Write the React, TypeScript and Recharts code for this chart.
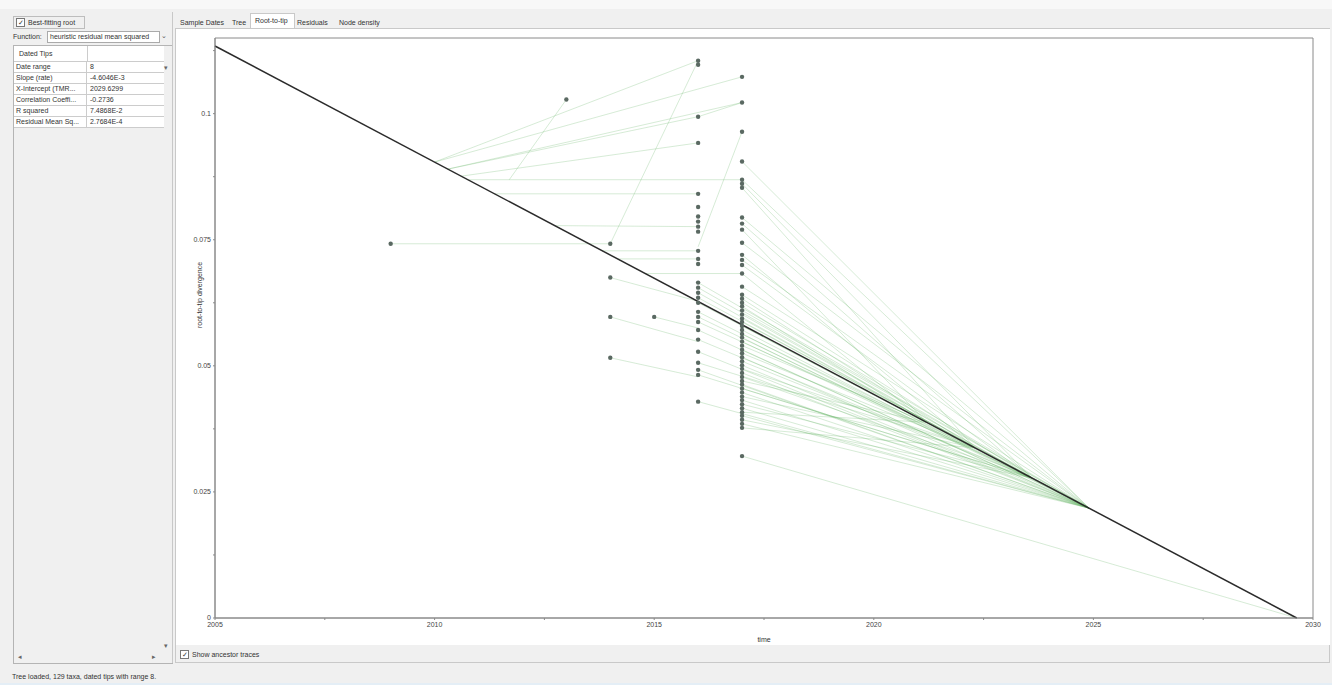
import {
  ComposedChart,
  ReferenceArea,
  ReferenceLine,
  Scatter,
  XAxis,
  YAxis,
} from 'recharts'

// regression fit reported in the side table
const SLOPE = -4.6046e-3
const X_INTERCEPT = 2029.6299
const DATE_RANGE = 8
const CORRELATION = -0.2736
const R_SQUARED = 7.4868e-2
const RESIDUAL_MS = 2.7684e-4

// root-to-tip divergence of the dated tips, grouped by sampling year
const tips2009 = [0.0742]
const tips2013 = [0.1028]
const tips2014 = [0.0742, 0.0675, 0.0597, 0.0516]
const tips2015 = [0.0597]
const tips2016 = [
  0.1105, 0.1097, 0.0994, 0.0942, 0.0841, 0.0815, 0.0796, 0.0786, 0.0776, 0.0766,
  0.0728, 0.0712, 0.0702, 0.0665, 0.0655, 0.0645, 0.0635, 0.0625, 0.0607, 0.0597,
  0.0587, 0.0571, 0.0552, 0.0528, 0.0506, 0.0492, 0.0482, 0.0429,
]
const tips2017 = [
  0.1073, 0.1022, 0.0964, 0.0905, 0.0869, 0.0861, 0.0853, 0.0794, 0.0782, 0.077,
  0.0744, 0.072, 0.071, 0.07, 0.0683, 0.0657, 0.0641, 0.0633, 0.0625, 0.0618,
  0.061, 0.0602, 0.0594, 0.0587, 0.0579, 0.0571, 0.0563, 0.0556, 0.0548, 0.054,
  0.0532, 0.0525, 0.0517, 0.0509, 0.0501, 0.0494, 0.0486, 0.0478, 0.047, 0.0463,
  0.0455, 0.0447, 0.0439, 0.0432, 0.0424, 0.0416, 0.0408, 0.0401, 0.0393, 0.0385,
  0.0377, 0.0321,
]

// ancestor traces towards the upper-left part of the tree: [x1, y1, x2, y2]
const earlyTraces: [number, number, number, number][] = [
  [2010.0, 0.0904, 2016, 0.1105],
  [2010.0, 0.0904, 2017, 0.1073],
  [2010.3, 0.089, 2016, 0.0994],
  [2010.3, 0.089, 2017, 0.1022],
  [2010.6, 0.0876, 2016, 0.0942],
  [2011.7, 0.0869, 2013, 0.1028],
  [2010.76, 0.0869, 2017, 0.0869],
  [2011.37, 0.0841, 2016, 0.0841],
  [2012.73, 0.0778, 2016, 0.0776],
  [2009, 0.0742, 2014, 0.0742],
  [2014, 0.0742, 2016, 0.1105],
  [2013.82, 0.0728, 2016, 0.0728],
  [2014.17, 0.0712, 2016, 0.0712],
  [2014.8, 0.0683, 2017, 0.0683],
  [2016, 0.0736, 2017, 0.0964],
  [2016, 0.0994, 2017, 0.1022],
  [2014, 0.0675, 2016, 0.0628],
  [2014, 0.0597, 2016, 0.0548],
  [2014, 0.0516, 2016, 0.0478],
  [2015, 0.0597, 2016, 0.0575],
  [2017, 0.0321, 2029.63, 0],
]

// ancestral nodes on the fitted line where the later traces converge
const fanAnchors: [number, number][] = [
  [2024.9, 0.02178],
  [2023.6, 0.02777],
  [2022.3, 0.03375],
  [2021.2, 0.03882],
]

// which anchor each later tip traces back to
const fan2017 = [
  0.0905, 0.0869, 0.0861, 0.0853, 0.0794, 0.0782, 0.077, 0.0744, 0.072, 0.071,
  0.07, 0.0683, 0.0657, 0.0641, 0.0633, 0.0625, 0.0618, 0.061, 0.0602, 0.0594,
  0.0587, 0.0579, 0.0571, 0.0563, 0.0556, 0.0548, 0.054, 0.0532, 0.0525, 0.0517,
  0.0509, 0.0501, 0.0494, 0.0486, 0.0478, 0.047, 0.0463, 0.0455, 0.0447, 0.0439,
  0.0432, 0.0424, 0.0416, 0.0408, 0.0401, 0.0393, 0.0385, 0.0377,
]
const fan2017Anchor = [
  0, 0, 1, 2, 0, 1, 3, 0, 2, 0,
  1, 3, 0, 1, 2, 0, 3, 0, 1, 2,
  0, 1, 0, 2, 0, 1, 3, 0, 2, 0,
  1, 0, 2, 0, 1, 3, 0, 1, 0, 2,
  0, 1, 0, 3, 0, 1, 0, 2,
]
const fan2016 = [
  0.0665, 0.0655, 0.0645, 0.0635, 0.0625, 0.0607, 0.0597, 0.0587, 0.0571, 0.0552,
  0.0528, 0.0506, 0.0492, 0.0482, 0.0429,
]
const fan2016Anchor = [0, 1, 2, 0, 3, 0, 1, 2, 0, 1, 0, 2, 0, 1, 0]

const xTicks = [2005, 2007.5, 2010, 2012.5, 2015, 2017.5, 2020, 2022.5, 2025, 2027.5, 2030]
const yTicks = [0, 0.0125, 0.025, 0.0375, 0.05, 0.0625, 0.075, 0.0875, 0.1, 0.1125]

const tabs = ['Sample Dates', 'Tree', 'Root-to-tip', 'Residuals', 'Node density']

// row names as the narrow first column shows them
const fitRows: [string, string][] = [
  ['Date range', String(DATE_RANGE)],
  ['Slope (rate)', SLOPE.toExponential(4).replace('e', 'E')],
  ['X-Intercept (TMR...', X_INTERCEPT.toFixed(4)],
  ['Correlation Coeffi...', CORRELATION.toFixed(4)],
  ['R squared', R_SQUARED.toExponential(4).replace('e', 'E')],
  ['Residual Mean Sq...', RESIDUAL_MS.toExponential(4).replace('e', 'E')],
]

const UI_FONT = '"Liberation Sans", Arial, sans-serif'
const TRACE = 'rgba(96, 178, 96, 0.26)'
const DOT = '#5a6962'

const tipData = [
  ...tips2009.map((y) => ({ x: 2009, y })),
  ...tips2013.map((y) => ({ x: 2013, y })),
  ...tips2014.map((y) => ({ x: 2014, y })),
  ...tips2015.map((y) => ({ x: 2015, y })),
  ...tips2016.map((y) => ({ x: 2016, y })),
  ...tips2017.map((y) => ({ x: 2017, y })),
]

const fanTraces: [number, number, number, number][] = [
  ...fan2017.map((y, i): [number, number, number, number] => [2017, y, ...fanAnchors[fan2017Anchor[i]]]),
  ...fan2016.map((y, i): [number, number, number, number] => [2016, y, ...fanAnchors[fan2016Anchor[i]]]),
]

const onStep = (v: number, step: number) => Math.abs(v / step - Math.round(v / step)) < 1e-6

function Check({ x, y, label }: { x: number; y: number; label: string }) {
  return (
    <div style={{ position: 'absolute', left: x, top: y, display: 'flex', alignItems: 'center', gap: 3 }}>
      <div
        style={{
          width: 7,
          height: 7,
          border: '1px solid #777',
          background: '#fff',
          fontSize: 7,
          lineHeight: '7px',
          textAlign: 'center',
          color: '#333',
        }}
      >
        ✓
      </div>
      <span>{label}</span>
    </div>
  )
}

function SidePanel() {
  return (
    <div style={{ position: 'absolute', left: 10, top: 12, width: 162, height: 651 }}>
      <div
        style={{
          position: 'absolute',
          left: 3,
          top: 4,
          width: 70,
          height: 11,
          border: '1px solid #bdbdbd',
        }}
      />
      <Check x={6} y={6} label="Best-fitting root" />
      <div style={{ position: 'absolute', left: 3, top: 21 }}>Function:</div>
      <div
        style={{
          position: 'absolute',
          left: 37,
          top: 19,
          width: 109,
          height: 10,
          border: '1px solid #aaa',
          background: '#fff',
          paddingLeft: 2,
          lineHeight: '10px',
          whiteSpace: 'nowrap',
        }}
      >
        heuristic residual mean squared
      </div>
      <div style={{ position: 'absolute', left: 151, top: 20, color: '#555' }}>⌄</div>

      {/* stats table in its scroll pane */}
      <div
        style={{
          position: 'absolute',
          left: 3,
          top: 33,
          width: 158,
          height: 617,
          border: '1px solid #b4b4b4',
          background: '#f0f0f0',
        }}
      >
        <div style={{ position: 'absolute', left: 0, top: 0, width: 150, background: '#fff' }}>
          <div
            style={{
              height: 15,
              lineHeight: '15px',
              paddingLeft: 5,
              borderBottom: '1px solid #ccc',
              display: 'flex',
            }}
          >
            <span style={{ width: 68, borderRight: '1px solid #ccc' }}>Dated Tips</span>
          </div>
          {fitRows.map(([k, v]) => (
            <div key={k} style={{ display: 'flex', height: 10, lineHeight: '10px', borderBottom: '1px solid #ccc' }}>
              <span style={{ width: 70, paddingLeft: 2, borderRight: '1px solid #ccc', whiteSpace: 'nowrap' }}>
                {k}
              </span>
              <span style={{ paddingLeft: 3 }}>{v}</span>
            </div>
          ))}
        </div>
        <div style={{ position: 'absolute', left: 150, top: 18, color: '#666' }}>▾</div>
        <div style={{ position: 'absolute', left: 150, top: 596, color: '#666' }}>▾</div>
        <div style={{ position: 'absolute', left: 4, top: 607, color: '#666' }}>◂</div>
        <div style={{ position: 'absolute', left: 138, top: 607, color: '#666' }}>▸</div>
      </div>
      <div style={{ position: 'absolute', left: 162, top: 0, width: 1, height: 651, background: '#c8c8c8' }} />
    </div>
  )
}

function Tabs() {
  const widths = [52, 20, 45, 42, 48]
  let left = 178
  return (
    <>
      {tabs.map((t, i) => {
        const w = widths[i]
        const x = left
        left += w
        const active = t === 'Root-to-tip'
        return (
          <div
            key={t}
            style={{
              position: 'absolute',
              left: x,
              top: active ? 13 : 16,
              width: w,
              height: active ? 16 : 13,
              background: active ? '#fff' : 'transparent',
              border: active ? '1px solid #c9c9c9' : 'none',
              borderBottom: 'none',
              lineHeight: '13px',
              paddingLeft: active ? 4 : 2,
              boxSizing: 'border-box',
              whiteSpace: 'nowrap',
            }}
          >
            {t}
          </div>
        )
      })}
    </>
  )
}

function RootToTip() {
  return (
    <ComposedChart width={1154} height={616} margin={{ top: 9, right: 17, left: 0, bottom: 0 }}>
      <XAxis
        dataKey="x"
        type="number"
        domain={[2005, 2030]}
        ticks={xTicks}
        interval={0}
        tickFormatter={(v: number) => (onStep(v, 5) ? String(v) : '')}
        tick={{ fontSize: 7, fill: '#444', fontFamily: UI_FONT }}
        tickSize={2}
        height={27}
        stroke="#8a8a8a"
        allowDataOverflow
        label={{ value: 'time', position: 'insideBottom', offset: 3, fontSize: 7, fill: '#333', fontFamily: UI_FONT }}
      />
      <YAxis
        dataKey="y"
        type="number"
        domain={[0, 0.115]}
        ticks={yTicks}
        interval={0}
        tickFormatter={(v: number) => (onStep(v, 0.025) ? String(Number(v.toFixed(4))) : '')}
        tick={{ fontSize: 7, fill: '#444', fontFamily: UI_FONT }}
        tickSize={2}
        width={39}
        stroke="#8a8a8a"
        allowDataOverflow
        label={{
          value: 'root-to-tip divergence',
          angle: -90,
          position: 'insideLeft',
          offset: 24,
          fontSize: 7,
          fill: '#333',
          fontFamily: UI_FONT,
        }}
      />
      <ReferenceArea x1={2005} x2={2030} y1={0} y2={0.115} fill="none" stroke="#8a8a8a" strokeWidth={1} />
      {[...earlyTraces, ...fanTraces].map(([x1, y1, x2, y2], i) => (
        <ReferenceLine
          key={`t${i}`}
          segment={[
            { x: x1, y: y1 },
            { x: x2, y: y2 },
          ]}
          stroke={TRACE}
          strokeWidth={1}
        />
      ))}
      <ReferenceLine
        segment={[
          { x: 2005, y: SLOPE * (2005 - X_INTERCEPT) },
          { x: X_INTERCEPT, y: 0 },
        ]}
        stroke="#2b2b2b"
        strokeWidth={1.5}
      />
      <Scatter
        data={tipData}
        isAnimationActive={false}
        shape={(p: any) => <circle cx={p.cx} cy={p.cy} r={2.2} fill={DOT} />}
      />
    </ComposedChart>
  )
}

export default function App() {
  return (
    <div
      style={{
        position: 'fixed',
        left: 0,
        top: 0,
        width: 1332,
        height: 685,
        background: '#f0f0f0',
        fontFamily: UI_FONT,
        fontSize: 7,
        color: '#333',
        overflow: 'hidden',
      }}
    >
      <div style={{ position: 'absolute', left: 0, top: 0, width: 1332, height: 9, background: '#f8f8f8' }} />
      <SidePanel />
      <Tabs />
      <div
        style={{
          position: 'absolute',
          left: 175,
          top: 28,
          width: 1155,
          height: 635,
          border: '1px solid #c9c9c9',
          boxSizing: 'border-box',
        }}
      />
      <div style={{ position: 'absolute', left: 176, top: 29, width: 1154, height: 616, background: '#fff' }}>
        <RootToTip />
      </div>
      <Check x={180} y={650} label="Show ancestor traces" />
      <div style={{ position: 'absolute', left: 12, top: 673 }}>Tree loaded, 129 taxa, dated tips with range 8.</div>
      <div style={{ position: 'absolute', left: 0, top: 683, width: 1332, height: 2, background: '#e4eef6' }} />
    </div>
  )
}
